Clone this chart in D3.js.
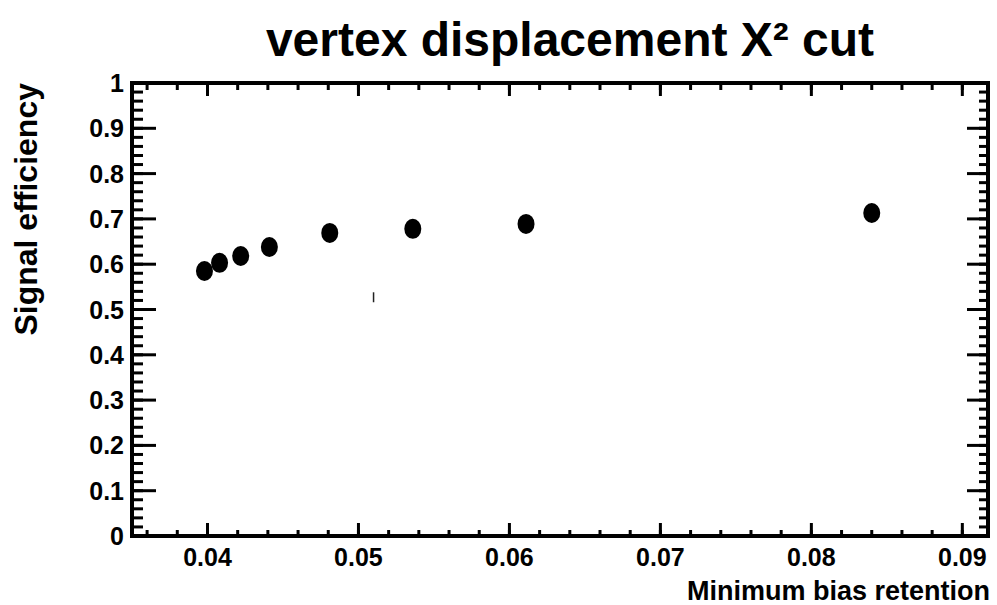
<!DOCTYPE html>
<html>
<head>
<meta charset="utf-8">
<script src="https://cdn.jsdelivr.net/npm/d3@7"></script>
<style>
  html, body { margin: 0; padding: 0; background: #fff; }
  svg { display: block; }
  text { font-family: "Liberation Sans", Arial, Helvetica, sans-serif; font-weight: bold; fill: #000; }
</style>
</head>
<body>
<div id="chart"></div>
<script>
(function () {
  "use strict";

  // --- Data ---
  const minBiasRetention = [0.0398, 0.0408, 0.0422, 0.0441, 0.0481, 0.0536, 0.0611, 0.0840];
  const signalEfficiency = [0.585, 0.603, 0.618, 0.638, 0.669, 0.678, 0.689, 0.713];
  const xTicks = [0.04, 0.05, 0.06, 0.07, 0.08, 0.09];
  const xTickLabels = ["0.04", "0.05", "0.06", "0.07", "0.08", "0.09"];
  const yTicks = [0, 0.1, 0.2, 0.3, 0.4, 0.5, 0.6, 0.7, 0.8, 0.9, 1];
  const yTickLabels = ["0", "0.1", "0.2", "0.3", "0.4", "0.5", "0.6", "0.7", "0.8", "0.9", "1"];
  // stray bar fragment visible in the picture: [x, yLow, yHigh]
  const strayBars = [[0.0510, 0.516, 0.538]];

  const title = "vertex displacement X\u00b2 cut";
  const xTitle = "Minimum bias retention";
  const yTitle = "Signal efficiency";

  // --- Layout ---
  const width = 997, height = 605;
  const frame = { left: 132, right: 988, top: 83, bottom: 536 };

  const svg = d3.select("#chart").append("svg")
    .attr("width", width)
    .attr("height", height);

  const x = d3.scaleLinear().domain([0.035, 0.0917]).range([frame.left, frame.right]);
  const y = d3.scaleLinear().domain([0, 1]).range([frame.bottom, frame.top]);

  // minor tick values (5 divisions per major)
  const xMinor = d3.range(0, 60).map((i) => 0.034 + i * 0.002)
    .filter((v) => v > x.domain()[0] + 1e-9 && v < x.domain()[1]);
  const yMinor = d3.range(0, 51).map((i) => i * 0.02);

  const tickG = svg.append("g").attr("stroke", "#000").attr("stroke-width", 3);

  // x ticks, bottom (pointing up) and top (pointing down)
  function drawXTicks(values, lenBottom, lenTop) {
    tickG.selectAll(null).data(values).join("line")
      .attr("x1", (d) => x(d)).attr("x2", (d) => x(d))
      .attr("y1", frame.bottom).attr("y2", frame.bottom - lenBottom);
    tickG.selectAll(null).data(values).join("line")
      .attr("x1", (d) => x(d)).attr("x2", (d) => x(d))
      .attr("y1", frame.top).attr("y2", frame.top + lenTop);
  }
  drawXTicks(xMinor, 6, 7);
  drawXTicks(xTicks, 13, 13);

  // y ticks, left (pointing right) and right (pointing left)
  function drawYTicks(values, lenLeft, lenRight) {
    tickG.selectAll(null).data(values).join("line")
      .attr("y1", (d) => y(d)).attr("y2", (d) => y(d))
      .attr("x1", frame.left).attr("x2", frame.left + lenLeft);
    tickG.selectAll(null).data(values).join("line")
      .attr("y1", (d) => y(d)).attr("y2", (d) => y(d))
      .attr("x1", frame.right).attr("x2", frame.right - lenRight);
  }
  drawYTicks(yMinor, 11, 9);
  drawYTicks(yTicks, 24, 21);

  // frame
  svg.append("rect")
    .attr("x", frame.left).attr("y", frame.top)
    .attr("width", frame.right - frame.left)
    .attr("height", frame.bottom - frame.top)
    .attr("fill", "none")
    .attr("stroke", "#000")
    .attr("stroke-width", 4);

  // tick labels
  svg.append("g").selectAll("text").data(xTicks).join("text")
    .attr("x", (d) => x(d))
    .attr("y", 566)
    .attr("text-anchor", "middle")
    .attr("font-size", 25)
    .text((d, i) => xTickLabels[i]);

  svg.append("g").selectAll("text").data(yTicks).join("text")
    .attr("x", 124)
    .attr("y", (d) => y(d))
    .attr("dy", "0.36em")
    .attr("text-anchor", "end")
    .attr("font-size", 25)
    .text((d, i) => yTickLabels[i]);

  // stray bar
  svg.append("g").selectAll("line").data(strayBars).join("line")
    .attr("x1", (d) => x(d[0])).attr("x2", (d) => x(d[0]))
    .attr("y1", (d) => y(d[1])).attr("y2", (d) => y(d[2]))
    .attr("stroke", "#222").attr("stroke-width", 1.5);

  // markers
  svg.append("g").selectAll("ellipse").data(minBiasRetention).join("ellipse")
    .attr("cx", (d) => x(d))
    .attr("cy", (d, i) => y(signalEfficiency[i]))
    .attr("rx", 8.5)
    .attr("ry", 10)
    .attr("fill", "#000");

  // titles
  svg.append("text")
    .attr("x", 570).attr("y", 56)
    .attr("text-anchor", "middle")
    .attr("font-size", 48)
    .text(title);

  svg.append("text")
    .attr("x", frame.right + 2).attr("y", 600)
    .attr("text-anchor", "end")
    .attr("font-size", 27)
    .text(xTitle);

  svg.append("text")
    .attr("transform", `translate(37,${frame.top}) rotate(-90)`)
    .attr("text-anchor", "end")
    .attr("font-size", 32)
    .text(yTitle);
})();
</script>
</body>
</html>
